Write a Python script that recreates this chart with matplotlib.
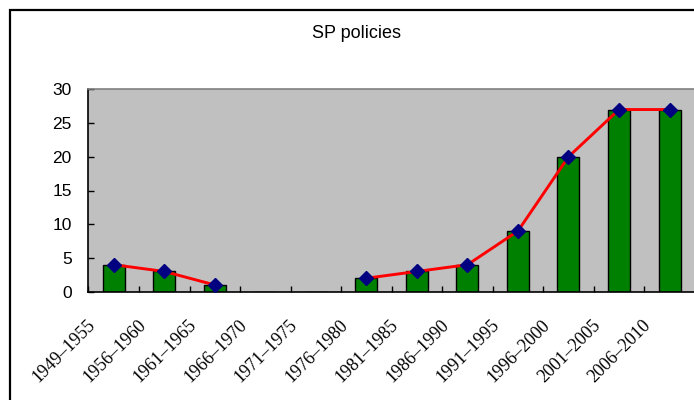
import numpy as np
import matplotlib
matplotlib.use("Agg")
import matplotlib.pyplot as plt
from matplotlib.patches import Rectangle
from matplotlib.transforms import ScaledTranslation, blended_transform_factory

categories = ["1949\u20131955", "1956\u20131960", "1961\u20131965", "1966\u20131970",
              "1971\u20131975", "1976\u20131980", "1981\u20131985", "1986\u20131990",
              "1991\u20131995", "1996\u20132000", "2001\u20132005", "2006\u20132010"]
values = [4, 3, 1, 0, 0, 2, 3, 4, 9, 20, 27, 27]
yticks = [0, 5, 10, 15, 20, 25, 30]

W, H = 694, 400
fig = plt.figure(figsize=(W / 100, H / 100), dpi=100)
fig.patch.set_facecolor("white")

# figure border
fig.patches.append(Rectangle((10 / W, -0.1), 1.2, (H - 10) / H + 0.1,
                             transform=fig.transFigure, fill=False,
                             edgecolor="black", linewidth=1.6, clip_on=False))

x0, x1 = 88.5, 694.8
yb, yt = 291.7, 89.3
ax = fig.add_axes([x0 / W, 1 - yb / H, (x1 - x0) / W, (yb - yt) / H])
ax.set_facecolor("#C0C0C0")

x = np.arange(len(categories))
ax.bar(x, values, width=0.435, color="#008000", edgecolor="black", linewidth=1.0, zorder=2)

line_vals = np.array([v if v != 0 else np.nan for v in values], dtype=float)
ax.plot(x, line_vals, color="#FF0000", linewidth=2.1, marker="D", markersize=7.5,
        markerfacecolor="#000080", markeredgecolor="#000080", zorder=3)

ax.set_xlim(-0.5, len(categories) - 0.5)
ax.set_ylim(0, 30)
ax.set_yticks(yticks)
ax.set_yticklabels([str(t) for t in yticks], fontsize=12.5, family="Liberation Sans")
ax.tick_params(axis="y", direction="in", length=4, width=1, pad=12)

ax.set_xticks(np.arange(len(categories) + 1) - 0.5)
ax.set_xticklabels([])
ax.tick_params(axis="x", direction="in", length=4, width=1)

offset = ScaledTranslation(-15 / 100, -25 / 100, fig.dpi_scale_trans)
trans = blended_transform_factory(ax.transData, ax.transAxes) + offset
for i, lab in enumerate(categories):
    ax.text(i, 0, lab, transform=trans, rotation=45, ha="right", va="top",
            fontsize=13, family="Liberation Serif")

for s in ["left", "bottom"]:
    ax.spines[s].set_color("black")
    ax.spines[s].set_linewidth(1.2)
ax.spines["top"].set_color("#808080")
ax.spines["top"].set_linewidth(1.2)
ax.spines["right"].set_visible(False)

fig.text(357 / W, 1 - 33 / H, "SP policies", ha="center", va="center",
         fontsize=13, family="Liberation Sans")

fig.savefig("out.png", dpi=100)
